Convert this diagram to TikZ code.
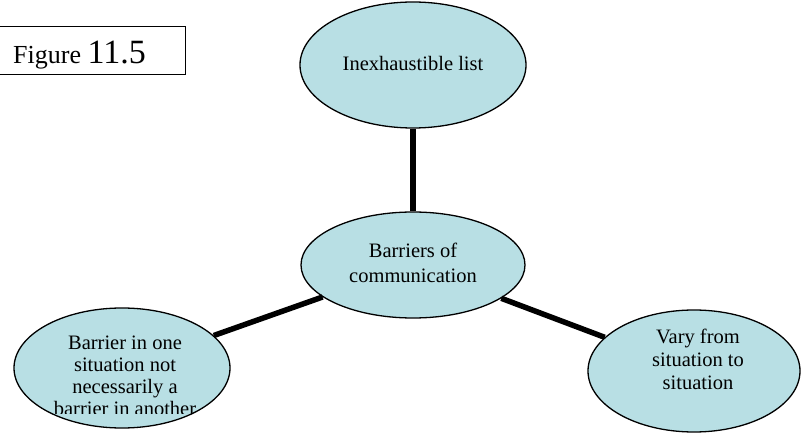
\documentclass[tikz,border=0pt]{standalone}
\usepackage{fontspec}
\setmainfont{Liberation Serif}
\usetikzlibrary{shapes.geometric}
\definecolor{bubblefill}{RGB}{184,223,228}
\tikzset{
  bubble/.style={ellipse, draw=black, line width=1.3pt, fill=bubblefill, inner sep=0pt},
  link/.style={line width=5.5pt},
  bubbletext/.style={align=center, font=\fontsize{20.5}{23}\selectfont, inner sep=0pt}
}
\begin{document}
\begin{tikzpicture}[x=1pt,y=-1pt]
\useasboundingbox (0,0) rectangle (801,435);

% caption box
\node[draw, line width=1pt, minimum width=188pt, minimum height=48pt, inner sep=0pt] (fig) at (91,51) {};
\node[anchor=base west, inner sep=0pt] (figtext) at (13,64)
  {\fontsize{26}{28}\selectfont Figure \fontsize{34}{36}\selectfont 11.5};

% bubbles
\node[bubble, minimum width=226pt, minimum height=126pt] (top) at (413,65) {};
\node[bubble, minimum width=224pt, minimum height=106pt] (mid) at (413,265) {};
\node[bubble, minimum width=216pt, minimum height=120pt] (left) at (122,368) {};
\node[bubble, minimum width=212pt, minimum height=122pt] (right) at (694,371) {};

% connectors
\draw[link] (mid) -- (top);
\draw[link] (mid) -- (left);
\draw[link] (mid) -- (right);

% bubble texts
\node[bubbletext] (toptext) at (413,63) {Inexhaustible list};
\node[bubbletext, font=\fontsize{20.5}{25}\selectfont] (midtext) at (413,263) {Barriers of\\communication};
\node[bubbletext] (righttext) at (698,359) {Vary from\\situation to\\situation};
\begin{scope}
  \clip (0,300) rectangle (260,413.5);
  \node[bubbletext, font=\fontsize{20.5}{22}\selectfont] (lefttext) at (125,376)
    {Barrier in one\\situation not\\necessarily a\\barrier in another};
\end{scope}
\end{tikzpicture}
\end{document}
